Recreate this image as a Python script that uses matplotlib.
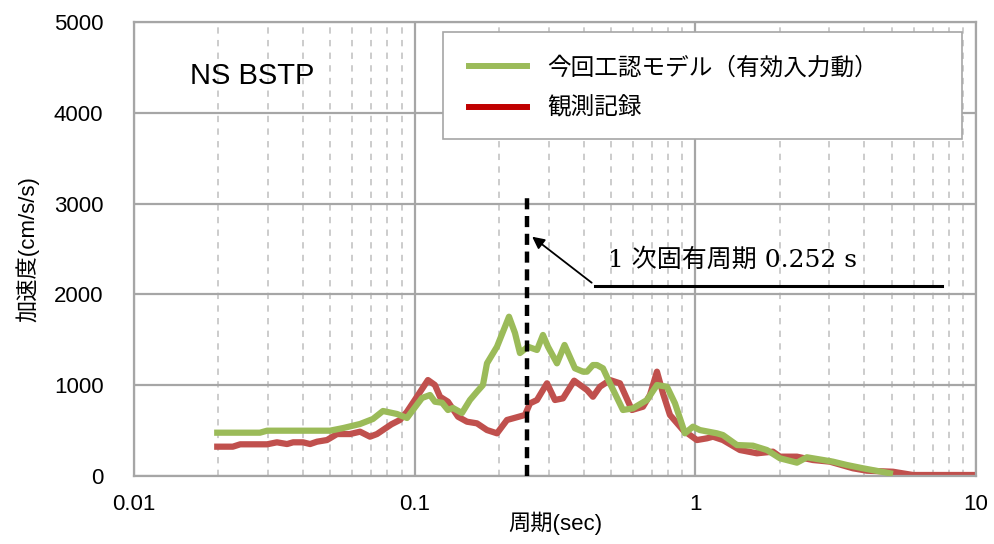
import numpy as np
import matplotlib.pyplot as plt
from matplotlib.lines import Line2D
from matplotlib.patches import Rectangle
from matplotlib.ticker import FixedLocator, LogLocator, NullFormatter

plt.rcParams['font.family'] = ['Liberation Sans', 'Noto Sans CJK JP']

# 今回工認モデル（有効入力動） : period [s], acceleration [cm/s/s]
model_T = [0.0198, 0.0281, 0.0298, 0.0499, 0.0556, 0.0639, 0.0710, 0.0771,
           0.0865, 0.0939, 0.0986, 0.1062, 0.1134, 0.1181, 0.1252, 0.1314,
           0.1369, 0.1474, 0.1574, 0.1667, 0.1751, 0.1810, 0.1965, 0.2064,
           0.2168, 0.2277, 0.2372, 0.2533, 0.2728, 0.2865, 0.2985, 0.3214,
           0.3420, 0.3725, 0.3978, 0.4111, 0.4317, 0.4462, 0.4687, 0.4963,
           0.5522, 0.5993, 0.6725, 0.7299, 0.7924, 0.8462, 0.9183, 0.9806,
           1.038, 1.194, 1.254, 1.407, 1.604, 1.799, 2.002, 2.301, 2.498,
           3.092, 3.468, 3.955, 4.935]
model_A = [477, 477, 499, 499, 528, 573, 628, 716,
           683, 639, 727, 859, 892, 818, 807, 727,
           749, 694, 837, 928, 1002, 1241, 1424, 1589,
           1754, 1575, 1354, 1424, 1388, 1553, 1424, 1241,
           1443, 1186, 1149, 1149, 1222, 1222, 1186, 1021,
           727, 745, 837, 1002, 983, 800, 470, 543,
           506, 470, 451, 341, 334, 286, 195, 147, 206,
           158, 121, 85, 30]

# 観測記録
obs_T = [0.0198, 0.0225, 0.0239, 0.0298, 0.0323, 0.0351, 0.0369, 0.0400,
         0.0424, 0.0449, 0.0487, 0.0529, 0.0588, 0.0639, 0.0693, 0.0734,
         0.0827, 0.0886, 0.0939, 0.1019, 0.1115, 0.1181, 0.1231, 0.1314,
         0.1427, 0.1536, 0.1667, 0.1810, 0.1965, 0.2133, 0.2240, 0.2472,
         0.2575, 0.2728, 0.2961, 0.3161, 0.3376, 0.3700, 0.4111, 0.4317,
         0.4573, 0.4963, 0.5388, 0.5943, 0.6508, 0.6892, 0.7299, 0.7667,
         0.8121, 0.9037, 1.013, 1.100, 1.155, 1.254, 1.442, 1.657, 1.890,
         2.002, 2.301, 2.624, 3.016, 3.644, 4.087, 5.058, 5.961, 9.75]
obs_A = [323, 323, 349, 349, 371, 352, 371, 371,
         352, 378, 396, 462, 462, 488, 433, 462,
         570, 617, 708, 873, 1057, 1002, 873, 818,
         653, 598, 580, 506, 470, 617, 635, 672,
         800, 837, 1021, 837, 855, 1050, 947, 873,
         983, 1057, 1021, 727, 763, 892, 1149, 911,
         672, 506, 396, 415, 433, 396, 286, 250, 268,
         213, 213, 176, 158, 85, 58, 47, 11, 11]

T1 = 0.252
green = '#9BBB59'
red = '#C0504D'
gridc = '#A6A6A6'

fig = plt.figure(figsize=(9.95, 5.44), dpi=100)
ax = fig.add_axes([134 / 995, 1 - 476 / 544, (976 - 134) / 995, (476 - 22) / 544])

ax.plot(model_T, model_A, color=green, lw=4.5, solid_joinstyle='round', zorder=3)
ax.plot(obs_T, obs_A, color=red, lw=4.5, solid_joinstyle='round', zorder=2)

ax.set_xscale('log')
ax.set_xlim(0.01, 10)
ax.set_ylim(0, 5000)
ax.set_yticks(np.arange(0, 5001, 1000))
ax.xaxis.set_major_locator(FixedLocator([0.01, 0.1, 1, 10]))
ax.set_xticklabels(['0.01', '0.1', '1', '10'])
ax.xaxis.set_minor_locator(LogLocator(base=10, subs=np.arange(2, 10)))
ax.xaxis.set_minor_formatter(NullFormatter())

ax.grid(True, which='major', color=gridc, lw=1.6, ls='-', zorder=0)
ax.grid(True, which='minor', axis='x', color='#C8C8C8', lw=1.3,
        ls=(0, (3.5, 3.5)), zorder=0)
for s in ax.spines.values():
    s.set_color(gridc)
    s.set_linewidth(1.6)
ax.tick_params(which='both', length=0, labelsize=16)
ax.tick_params(axis='y', pad=22)
ax.tick_params(axis='x', pad=13)

ax.set_xlabel('周期(sec)', fontsize=16, va='center')
ax.set_ylabel('加速度(cm/s/s)', fontsize=16, va='center')
ax.xaxis.set_label_coords(0.5, -0.1035)
ax.yaxis.set_label_coords(-0.127, 0.5)

ax.text(0.0158, 4400, 'NS BSTP', fontsize=21, va='center', ha='left')

# first natural period marker
ax.plot([T1, T1], [0, 3120], color='black', lw=3.2, ls=(0, (2.5, 1.5)), zorder=4)
ax.plot([0.439, 7.56], [2093, 2093], color='black', lw=2.2, zorder=4)
ax.annotate('', xy=(0.2575, 2654), xytext=(0.435, 2110),
            arrowprops=dict(arrowstyle='-|>', color='black', lw=1.3,
                            mutation_scale=18), zorder=4)
ax.text(0.488, 2379, '1 次固有周期 0.252 s', fontsize=18, va='center', ha='left',
        family=['DejaVu Serif', 'Noto Sans CJK JP'])

# legend box
ax.add_patch(Rectangle((0.367, 0.742), 0.616, 0.236, transform=ax.transAxes,
                       facecolor='white', edgecolor=gridc, lw=1.2, zorder=5))
handles = [Line2D([], [], color=green, lw=4.3),
           Line2D([], [], color='#C00000', lw=4.3)]
leg = ax.legend(handles, ['今回工認モデル（有効入力動）', '観測記録'],
                loc='upper left', bbox_to_anchor=(0.398, 0.923),
                fontsize=17, frameon=False, handlelength=2.45,
                handletextpad=0.85, borderpad=0, labelspacing=0.75,
                borderaxespad=0)
leg.set_zorder(6)

fig.savefig('out.png', dpi=100)
